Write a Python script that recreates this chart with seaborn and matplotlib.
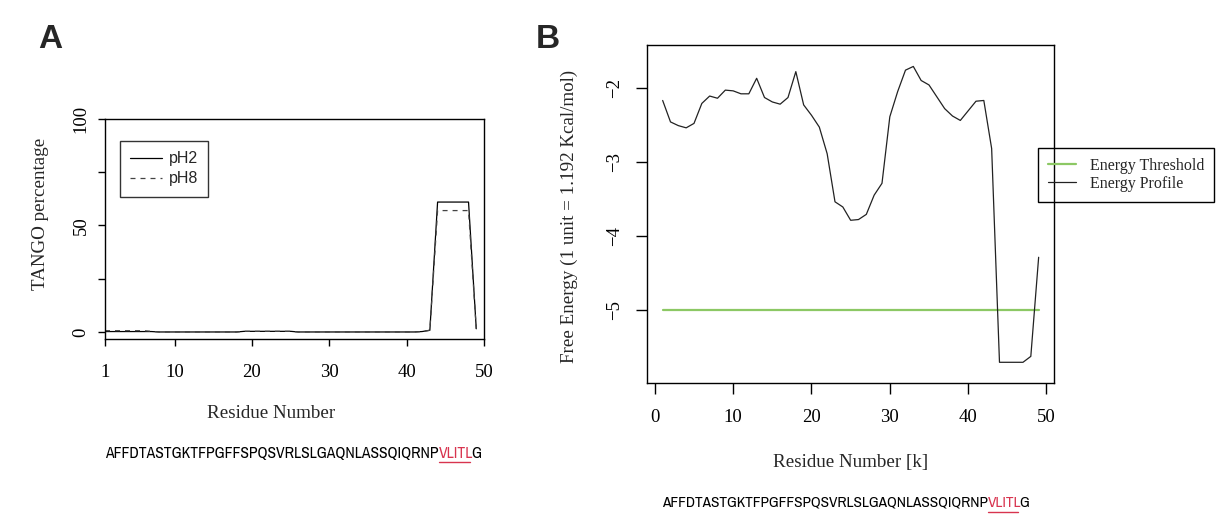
import numpy as np
import pandas as pd
import seaborn as sns
import matplotlib
matplotlib.use("Agg")
import matplotlib.pyplot as plt
from matplotlib.lines import Line2D
from matplotlib import font_manager

# ---------------- data ----------------
residues = list(range(1, 50))
tango_ph2 = [0.2, 0.2, 0.2, 0.2, 0.2, 0.2, 0.2, 0, 0, 0,
             0, 0, 0, 0, 0, 0, 0, 0, 0.3, 0.3,
             0.3, 0.3, 0.3, 0.3, 0.3, 0, 0, 0, 0, 0,
             0, 0, 0, 0, 0, 0, 0, 0, 0, 0,
             0, 0.2, 0.8, 61, 61, 61, 61, 61, 1.5]
tango_ph8 = [0.6, 0.6, 0.6, 0.6, 0.6, 0.6, 0.3, 0, 0, 0,
             0, 0, 0, 0, 0, 0, 0, 0, 0.3, 0.3,
             0.3, 0.3, 0.3, 0.3, 0.3, 0, 0, 0, 0, 0,
             0, 0, 0, 0, 0, 0, 0, 0, 0, 0,
             0, 0.2, 0.8, 57, 57, 57, 57, 57, 1.5]
energy_profile = [-2.17, -2.46, -2.51, -2.54, -2.48, -2.21, -2.11, -2.14, -2.03, -2.04,
                  -2.08, -2.08, -1.87, -2.13, -2.19, -2.22, -2.13, -1.78, -2.23, -2.37,
                  -2.53, -2.89, -3.54, -3.61, -3.79, -3.78, -3.71, -3.45, -3.29, -2.39,
                  -2.05, -1.76, -1.71, -1.90, -1.96, -2.12, -2.28, -2.38, -2.44, -2.31,
                  -2.18, -2.17, -2.82, -5.71, -5.71, -5.71, -5.71, -5.63, -4.29]
energy_threshold = [-5.0] * 49
a_xticks = [1, 10, 20, 30, 40, 50]
a_yticks = [0, 25, 50, 75, 100]
a_yticklabels = ["0", "", "50", "", "100"]
b_xticks = [0, 10, 20, 30, 40, 50]
b_yticks = [-2, -3, -4, -5]
sequence_pre = "AFFDTASTGKTFPGFFSPQSVRLSLGAQNLASSQIQRNP"
sequence_hot = "VLITL"
sequence_post = "G"

# ---------------- style ----------------
sns.set_theme(style="white")
SERIF = ["Liberation Serif", "DejaVu Serif"]
SANS = ["Liberation Sans", "DejaVu Sans"]
_names = {f.name for f in font_manager.fontManager.ttflist}
NARROW = [n for n in ["Archivo Narrow", "Roboto Condensed", "Liberation Sans"] if n in _names] + ["DejaVu Sans"]
plt.rcParams["font.family"] = SERIF
plt.rcParams["axes.edgecolor"] = "black"
plt.rcParams["axes.linewidth"] = 1.0
plt.rcParams["xtick.color"] = "black"
plt.rcParams["ytick.color"] = "black"

W, H = 1217, 525
fig = plt.figure(figsize=(W / 100, H / 100), dpi=100)
fig.patch.set_facecolor("white")


def px_axes(left, top, right, bottom):
    return fig.add_axes([left / W, 1 - bottom / H, (right - left) / W, (bottom - top) / H])


TICK_FS = 13.5
LABEL_FS = 13.7

# ---------------- Panel A ----------------
axA = px_axes(105, 119, 484, 339)
dfA = pd.DataFrame({"res": residues, "pH2": tango_ph2, "pH8": tango_ph8})
sns.lineplot(data=dfA, x="res", y="pH2", ax=axA, color="black", lw=0.9, label="pH2")
sns.lineplot(data=dfA, x="res", y="pH8", ax=axA, color="#444444", lw=0.9, label="pH8")
axA.lines[1].set_dashes((4, 4))
axA.set_xlim(1, 50)
axA.set_ylim(-3.3, 100)
axA.set_xticks(a_xticks)
axA.set_xticklabels([str(v) for v in a_xticks])
axA.set_yticks(a_yticks)
axA.set_yticklabels(a_yticklabels)
axA.tick_params(axis="x", direction="out", length=5, width=1, pad=13, labelsize=TICK_FS, bottom=True)
axA.tick_params(axis="y", direction="out", length=5, width=1, pad=6, labelsize=TICK_FS,
                labelrotation=90, left=True)
for lab in axA.get_yticklabels():
    lab.set_va("center")
axA.set_xlabel("Residue Number", fontsize=LABEL_FS)
axA.set_ylabel("TANGO percentage", fontsize=LABEL_FS)
axA.xaxis.set_label_coords((271.5 - 105) / 379, (339 - 413) / 220)
axA.xaxis.label.set_va("center")
axA.yaxis.set_label_coords((41 - 105) / 379, (339 - 214) / 220)
axA.yaxis.label.set_va("center")
legA = axA.legend(loc="upper left", bbox_to_anchor=((120 - 105) / 379, (339 - 141) / 220),
                  borderaxespad=0, frameon=True, fancybox=False, edgecolor="black",
                  prop={"family": SANS, "size": 11.5}, handlelength=2.0, handletextpad=0.4,
                  labelspacing=0.3, borderpad=0.65)
legA.get_frame().set_linewidth(1.0)
legA.legend_handles[1].set_dashes((4, 4))

# ---------------- Panel B ----------------
axB = px_axes(647, 45, 1054, 383)
dfB = pd.DataFrame({"res": residues, "thr": energy_threshold, "prof": energy_profile})
sns.lineplot(data=dfB, x="res", y="thr", ax=axB, color="#8cc864", lw=1.6, label="Energy Threshold")
sns.lineplot(data=dfB, x="res", y="prof", ax=axB, color="#222222", lw=0.9, label="Energy Profile")
axB.set_xlim(-1.0, 50.96)
axB.set_ylim(-5.99, -1.42)
axB.set_xticks(b_xticks)
axB.set_xticklabels([str(v) for v in b_xticks])
axB.set_yticks(b_yticks)
axB.set_yticklabels([f"\u2212{abs(v)}" for v in b_yticks])
axB.tick_params(axis="x", direction="out", length=8, width=1, pad=11, labelsize=TICK_FS, bottom=True)
axB.tick_params(axis="y", direction="out", length=8, width=1, pad=9, labelsize=TICK_FS,
                labelrotation=90, left=True)
for lab in axB.get_yticklabels():
    lab.set_va("center")
axB.set_xlabel("Residue Number [k]", fontsize=LABEL_FS)
axB.set_ylabel("Free Energy (1 unit = 1.192 Kcal/mol)", fontsize=LABEL_FS)
axB.xaxis.set_label_coords(0.5, (383 - 463) / 338)
axB.xaxis.label.set_va("center")
axB.yaxis.set_label_coords((569 - 647) / 407, (383 - 216) / 338)
axB.yaxis.label.set_va("center")
legB = axB.legend(loc="upper left", bbox_to_anchor=((1038 - 647) / 407, (383 - 148) / 338),
                  borderaxespad=0, frameon=True, fancybox=False, edgecolor="black",
                  prop={"family": SERIF, "size": 11.5}, handlelength=1.8, handletextpad=0.85,
                  labelspacing=0.15, borderpad=0.6)
legB.get_frame().set_linewidth(1.0)
legB.get_frame().set_edgecolor("black")
legB.get_frame().set_alpha(None)
legB.get_frame().set_facecolor((1, 1, 1, 0))
legB.set_clip_on(False)

for ax in (axA, axB):
    for s in ax.spines.values():
        s.set_visible(True)
        s.set_color("black")
        s.set_linewidth(1.0)

# ---------------- panel letters ----------------
fig.text(50 / W, 1 - 40 / H, "A", family=SANS, weight="bold", fontsize=24, ha="center", va="center")
fig.text(548 / W, 1 - 40 / H, "B", family=SANS, weight="bold", fontsize=24, ha="center", va="center")

# ---------------- sequences ----------------
renderer = fig.canvas.get_renderer()
SEQ_RED = "#d8344f"


def text_width(s, fs):
    t = fig.text(0, 0, s, family=NARROW, fontsize=fs)
    w = t.get_window_extent(renderer).width
    t.remove()
    return w


def place_sequence(x0, x1, yc, yline):
    full = sequence_pre + sequence_hot + sequence_post
    base = 10.0
    fs = base * (x1 - x0) / text_width(full, base)
    w_pre = text_width(sequence_pre, fs)
    w_prehot = text_width(sequence_pre + sequence_hot, fs)
    hot_x = x0 + w_pre
    post_x = x0 + w_prehot - 2
    for s, c, x in [(sequence_pre, "black", x0), (sequence_hot, SEQ_RED, hot_x),
                    (sequence_post, "black", post_x)]:
        fig.text(x / W, 1 - yc / H, s, family=NARROW, fontsize=fs, color=c, ha="left", va="center")
    fig.add_artist(Line2D([hot_x / W, (post_x - 1) / W], [1 - yline / H, 1 - yline / H],
                          transform=fig.transFigure, color=SEQ_RED, lw=1.0))


place_sequence(105, 483, 453, 462)
place_sequence(662, 1031, 503, 512)

fig.savefig("out.png", dpi=100, facecolor="white")
